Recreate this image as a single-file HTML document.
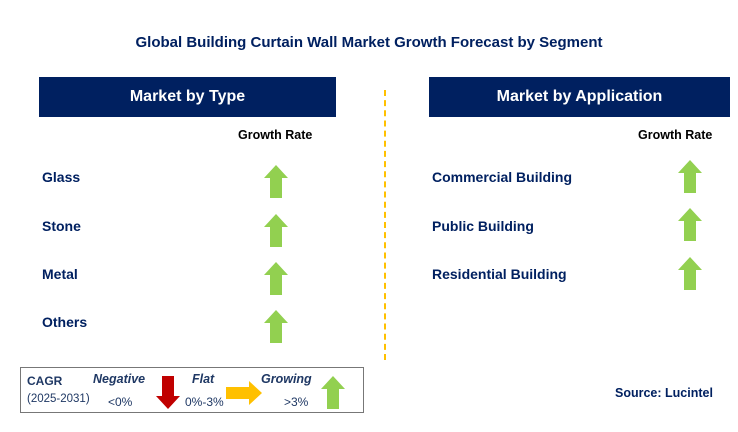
<!DOCTYPE html>
<html><head><meta charset="utf-8"><style>
body{margin:0;background:#fff;font-family:"Liberation Sans",Arial,sans-serif}
#c{position:relative;width:738px;height:432px;overflow:hidden}
.a{position:absolute}
.t{font-weight:bold;color:#002060;font-size:14px}
.hdr{position:absolute;background:#002060;color:#fff;font-weight:bold;font-size:16px;text-align:center;line-height:40px;height:40px;top:77px}
.gr{position:absolute;font-weight:bold;font-size:12.5px;color:#000;top:128px}
</style></head><body>
<div id="c">
<div class="a" style="left:0;width:738px;top:34px;text-align:center;font-weight:bold;font-size:15px;color:#002060">Global Building Curtain Wall Market Growth Forecast by Segment</div>
<div class="hdr" style="left:39px;width:297px">Market by Type</div>
<div class="hdr" style="left:429px;width:301px">Market by Application</div>
<div class="gr" style="left:238px">Growth Rate</div>
<div class="gr" style="left:638px">Growth Rate</div>
<div class="a" style="left:384px;top:90px;height:270px;border-left:2px dashed #ffc000"></div>
<svg class="a" style="left:0;top:0" width="738" height="432" id="s"></svg>
<div class="a" style="left:20px;top:367px;width:344px;height:46px;border:1px solid #777;box-sizing:border-box"></div>
<div class="a" style="left:27px;top:374px;font-weight:bold;font-size:12px;color:#1f3864">CAGR</div>
<div class="a" style="left:27px;top:393px;font-size:11.5px;color:#1f3864">(2025-2031)</div>
<div class="a" style="left:93px;top:372px;font-weight:bold;font-style:italic;font-size:12.5px;color:#1f3864">Negative</div>
<div class="a" style="left:108px;top:395px;font-size:12px;color:#1f3864">&lt;0%</div>
<div class="a" style="left:192px;top:372px;font-weight:bold;font-style:italic;font-size:12.5px;color:#1f3864">Flat</div>
<div class="a" style="left:185px;top:395px;font-size:12px;color:#1f3864">0%-3%</div>
<div class="a" style="left:261px;top:372px;font-weight:bold;font-style:italic;font-size:12.5px;color:#1f3864">Growing</div>
<div class="a" style="left:284px;top:395px;font-size:12px;color:#1f3864">&gt;3%</div>
<div class="a" style="left:615px;top:386px;font-weight:bold;font-size:12.5px;color:#002060">Source: Lucintel</div>
</div>
<script>
const typeCategories=["Glass","Stone","Metal","Others"];
const typeTrends=["up","up","up","up"];
const appCategories=["Commercial Building","Public Building","Residential Building"];
const appTrends=["up","up","up"];
const s=document.getElementById('s'),c=document.getElementById('c');
const NS="http://www.w3.org/2000/svg";
function arrow(cx,top,dir,name){
  const p=document.createElementNS(NS,'path');
  let d;
  if(dir==="up")d=`M${cx} ${top} L${cx+12} ${top+13} L${cx+6} ${top+13} L${cx+6} ${top+33} L${cx-6} ${top+33} L${cx-6} ${top+13} L${cx-12} ${top+13}Z`;
  else if(dir==="down")d=`M${cx} ${top+33} L${cx+12} ${top+20} L${cx+6} ${top+20} L${cx+6} ${top} L${cx-6} ${top} L${cx-6} ${top+20} L${cx-12} ${top+20}Z`;
  else d=`M${cx+18} ${top+16} L${cx+5} ${top+4} L${cx+5} ${top+10} L${cx-18} ${top+10} L${cx-18} ${top+22} L${cx+5} ${top+22} L${cx+5} ${top+28}Z`;
  p.setAttribute('d',d);
  p.setAttribute('fill',dir==="up"?"#92d050":dir==="down"?"#c00000":"#ffc000");
  
  
  s.appendChild(p);
}
function label(txt,x,y,name){
  const e=document.createElement('div');
  e.className='a t';e.style.left=x+'px';e.style.top=y+'px';e.textContent=txt;
  
  
  c.appendChild(e);
}
const typeY=[169,218,266,314];
typeCategories.forEach((n,i)=>{label(n,42,typeY[i],'type-label-'+n.toLowerCase());arrow(276,typeY[i]-4,typeTrends[i],'type-arrow-'+n.toLowerCase());});
const appY=[169,218,266];
appCategories.forEach((n,i)=>{const k=n.toLowerCase().replace(/ /g,'-');label(n,432,appY[i],'app-label-'+k);arrow(690,appY[i]-9+(i?-1:0)+ (i==2?1:0),appTrends[i],'app-arrow-'+k);});
arrow(168,376,"down","legend-down-arrow");
arrow(244,377,"flat","legend-flat-arrow");
arrow(333,376,"up","legend-up-arrow");
</script>
</body></html>
